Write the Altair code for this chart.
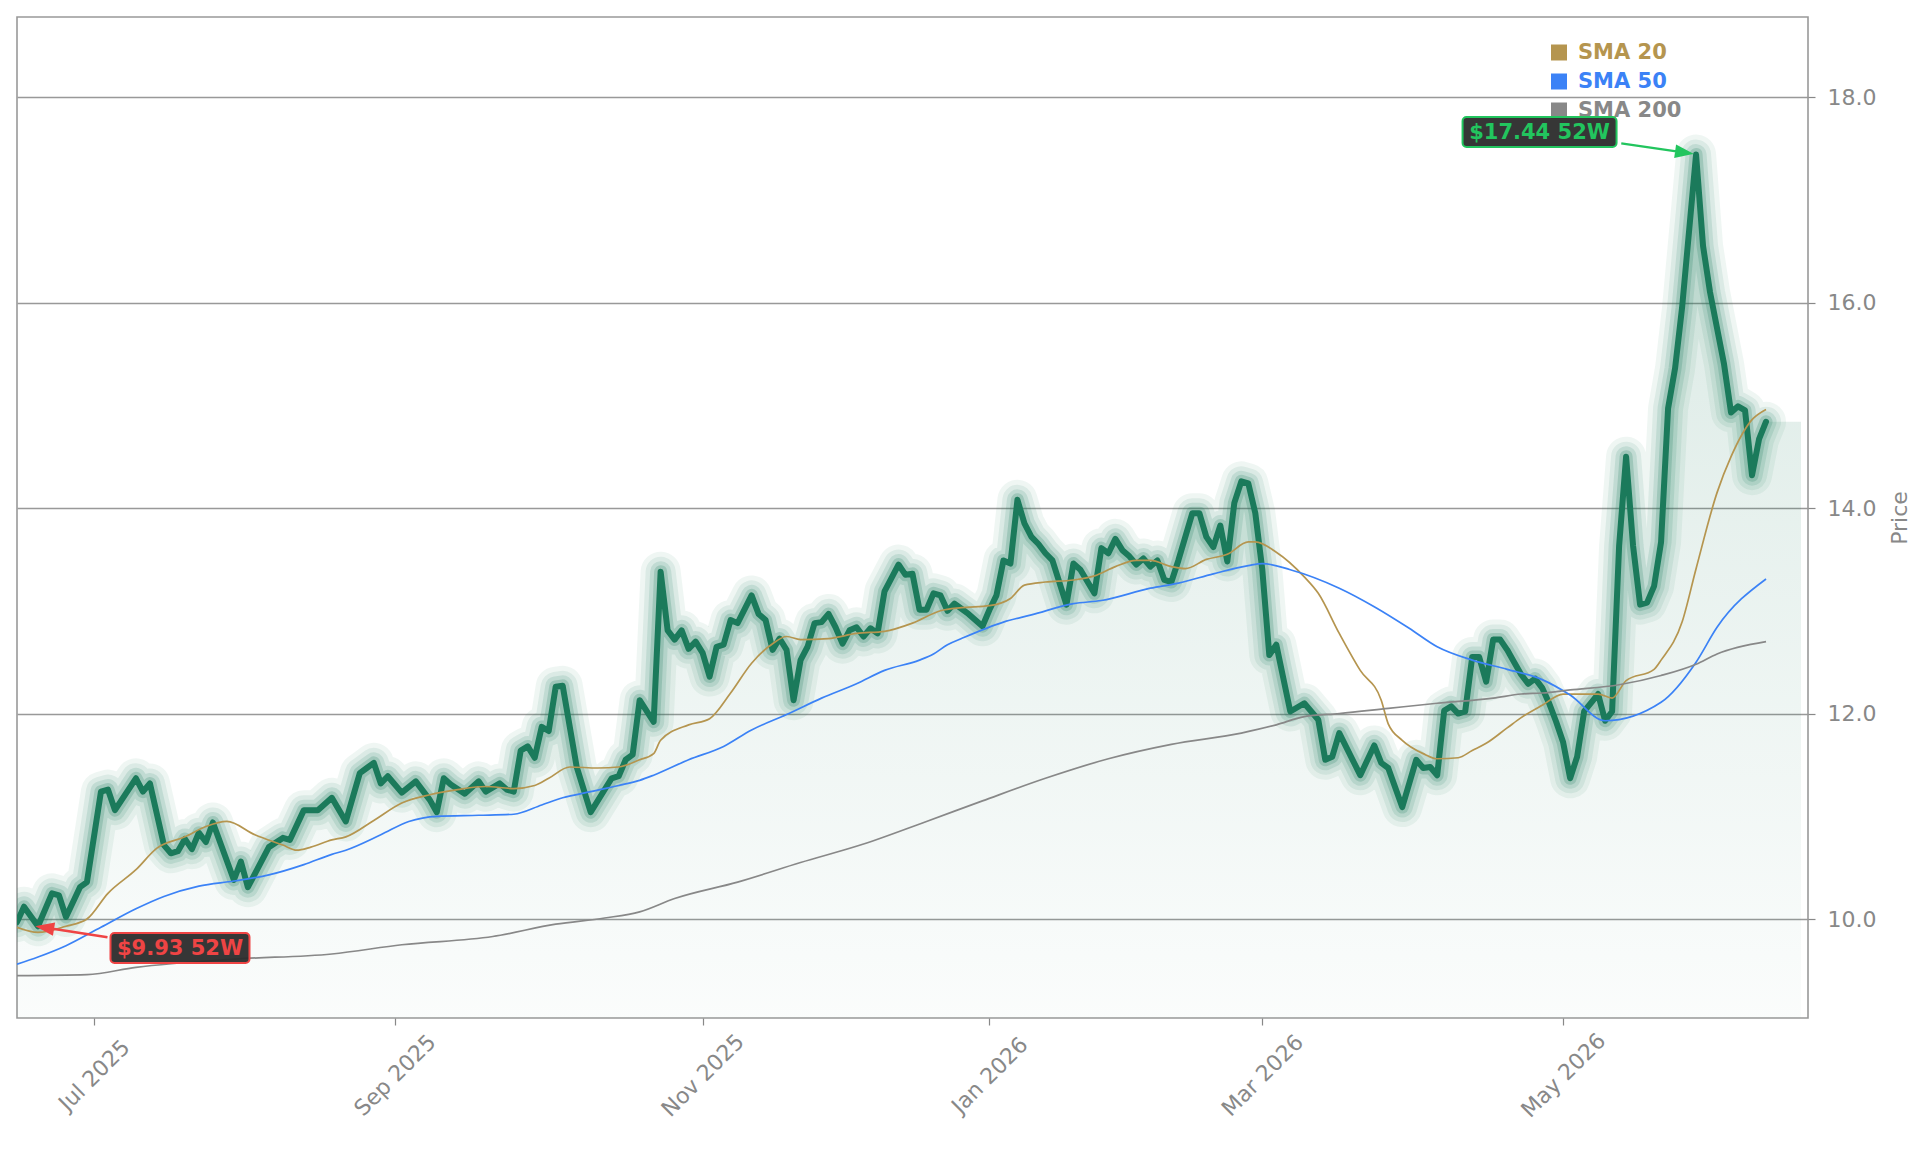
import altair as alt
import pandas as pd

# ---------------- data ----------------
# x positions are trading-day indices (0 = first day shown, 250 = last day)
price_idx = [0, 1, 3, 5, 6, 7, 9, 10, 12, 13, 14, 17, 18, 19, 21, 22, 23, 24, 25, 26,
             27, 28, 31, 32, 33, 36, 38, 39, 41, 43, 45, 47, 49, 50, 51, 52, 53, 55, 57, 59,
             60, 61, 62, 64, 66, 67, 69, 70, 71, 72, 73, 74, 75, 76, 77, 78, 80, 82, 85, 86,
             87, 88, 89, 91, 92, 93, 94, 95, 96, 97, 98, 99, 100, 101, 102, 103, 105, 106, 107, 108,
             109, 110, 111, 112, 113, 114, 115, 116, 117, 118, 119, 120, 121, 122, 123, 124, 126, 127, 128, 129,
             130, 131, 132, 133, 134, 135, 136, 138, 139, 140, 141, 142, 143, 144, 145, 146, 147, 148, 150, 151,
             152, 154, 155, 156, 157, 158, 159, 160, 161, 162, 163, 164, 165, 166, 168, 169, 170, 171, 172, 173,
             174, 175, 176, 177, 178, 179, 180, 182, 184, 186, 187, 188, 189, 192, 194, 195, 196, 198, 200, 201,
             202, 203, 204, 205, 206, 207, 208, 209, 210, 211, 212, 213, 214, 215, 216, 217, 218, 219, 220, 221,
             222, 223, 224, 226, 227, 228, 229, 230, 231, 232, 233, 234, 235, 236, 237, 238, 240, 241, 242, 244,
             245, 246, 247, 248, 249, 250]
price = [9.97, 10.12, 9.93, 10.25, 10.23, 10.02, 10.31, 10.36, 11.24, 11.26, 11.06, 11.37, 11.24, 11.32, 10.72, 10.64, 10.66, 10.78, 10.68, 10.84,
         10.75, 10.94, 10.38, 10.56, 10.31, 10.70, 10.79, 10.77, 11.06, 11.06, 11.18, 10.95, 11.42, 11.47, 11.52, 11.32, 11.39, 11.23, 11.34, 11.16,
         11.04, 11.37, 11.31, 11.22, 11.34, 11.24, 11.32, 11.26, 11.24, 11.64, 11.68, 11.57, 11.87, 11.83, 12.26, 12.27, 11.48, 11.04, 11.37, 11.39,
         11.55, 11.60, 12.13, 11.92, 13.38, 12.81, 12.72, 12.81, 12.63, 12.70, 12.59, 12.36, 12.65, 12.67, 12.91, 12.88, 13.15, 12.97, 12.91, 12.62,
         12.73, 12.62, 12.13, 12.52, 12.65, 12.88, 12.89, 12.97, 12.84, 12.68, 12.81, 12.84, 12.75, 12.83, 12.78, 13.19, 13.45, 13.35, 13.36, 13.01,
         13.01, 13.17, 13.15, 13.00, 13.07, 13.02, 12.97, 12.85, 13.01, 13.15, 13.49, 13.46, 14.08, 13.85, 13.72, 13.65, 13.56, 13.49, 13.06, 13.46,
         13.40, 13.17, 13.61, 13.56, 13.70, 13.59, 13.53, 13.45, 13.51, 13.43, 13.49, 13.30, 13.28, 13.49, 13.95, 13.95, 13.72, 13.62, 13.83, 13.48,
         14.05, 14.26, 14.24, 13.95, 13.40, 12.57, 12.67, 12.02, 12.10, 11.94, 11.55, 11.58, 11.81, 11.40, 11.69, 11.52, 11.47, 11.09, 11.55, 11.47,
         11.48, 11.40, 12.03, 12.07, 12.00, 12.02, 12.55, 12.55, 12.31, 12.72, 12.72, 12.62, 12.50, 12.38, 12.29, 12.34, 12.25, 12.10, 11.92, 11.72,
         11.37, 11.58, 12.02, 12.19, 11.93, 12.02, 13.63, 14.50, 13.63, 13.06, 13.08, 13.24, 13.67, 14.97, 15.36, 15.95, 17.44, 16.55, 16.10, 15.40,
         14.93, 14.99, 14.95, 14.32, 14.67, 14.84]

sma20_idx = [0, 3, 7, 10, 13, 17, 20, 24, 27, 30, 34, 38, 40, 42, 45, 47, 51, 55, 59, 63,
             67, 71, 74, 76, 79, 83, 86, 89, 91, 92, 96, 99, 102, 105, 108, 110, 112, 116, 120, 124,
             128, 132, 135, 139, 142, 144, 147, 151, 154, 157, 160, 162, 165, 167, 170, 173, 176, 177, 180, 184,
             186, 189, 192, 195, 196, 198, 201, 203, 206, 208, 210, 213, 215, 218, 221, 226, 228, 230, 234, 235,
             238, 240, 243, 245, 248, 250]
sma20 = [9.92, 9.87, 9.93, 10.00, 10.25, 10.48, 10.69, 10.80, 10.90, 10.95, 10.82, 10.72, 10.67, 10.70, 10.77, 10.80, 10.96, 11.13, 11.21, 11.26,
         11.29, 11.27, 11.30, 11.37, 11.48, 11.47, 11.48, 11.55, 11.61, 11.74, 11.89, 11.95, 12.20, 12.49, 12.68, 12.75, 12.72, 12.73, 12.78, 12.80,
         12.88, 13.00, 13.03, 13.05, 13.12, 13.25, 13.28, 13.30, 13.34, 13.43, 13.49, 13.49, 13.43, 13.41, 13.50, 13.55, 13.67, 13.67, 13.57, 13.33,
         13.17, 12.78, 12.42, 12.13, 11.90, 11.74, 11.61, 11.56, 11.57, 11.64, 11.71, 11.86, 11.96, 12.08, 12.19, 12.19, 12.15, 12.32, 12.43, 12.52,
         12.89, 13.41, 14.15, 14.50, 14.86, 14.96]

sma50_idx = [0, 3, 7, 12, 17, 21, 26, 31, 36, 41, 45, 47, 52, 56, 60, 66, 71, 75, 78, 82,
             86, 89, 91, 96, 101, 105, 110, 115, 120, 124, 129, 131, 133, 135, 141, 145, 151, 155, 162, 166,
             171, 176, 178, 182, 189, 194, 199, 203, 208, 213, 218, 222, 227, 235, 240, 243, 250]
sma50 = [9.56, 9.63, 9.74, 9.92, 10.10, 10.22, 10.32, 10.37, 10.43, 10.53, 10.63, 10.67, 10.82, 10.95, 11.00, 11.01, 11.02, 11.11, 11.18, 11.24,
         11.30, 11.35, 11.40, 11.55, 11.68, 11.84, 11.99, 12.15, 12.29, 12.42, 12.52, 12.58, 12.67, 12.73, 12.89, 12.96, 13.07, 13.10, 13.22, 13.27,
         13.36, 13.44, 13.46, 13.40, 13.22, 13.04, 12.83, 12.65, 12.52, 12.43, 12.33, 12.18, 11.93, 12.11, 12.50, 12.84, 13.31]

sma200_idx = [0, 10, 17, 31, 45, 55, 68, 77, 84, 89, 94, 103, 112, 121, 130, 138, 147, 156, 165, 175,
              180, 184, 189, 196, 203, 211, 215, 218, 222, 229, 235, 240, 243, 250]
sma200 = [9.45, 9.46, 9.53, 9.61, 9.66, 9.75, 9.83, 9.95, 10.01, 10.07, 10.20, 10.36, 10.55, 10.73, 10.95, 11.15, 11.37, 11.56, 11.70, 11.81,
          11.89, 11.97, 12.00, 12.05, 12.10, 12.15, 12.19, 12.20, 12.23, 12.28, 12.37, 12.48, 12.58, 12.70]

tick_idx = [11, 54, 98, 139, 178, 221]
tick_labels = ["Jul 2025", "Sep 2025", "Nov 2025", "Jan 2026", "Mar 2026", "May 2026"]
y_ticks = [10, 12, 14, 16, 18]

series_names = ["SMA 20", "SMA 50", "SMA 200"]
series_colors = ["#b5954f", "#3b82f6", "#888888"]

# ---------------- styling ----------------
X_DOMAIN = [0, 256]
Y_DOMAIN = [9.037, 18.779]
AREA_END = 255
GREEN = "#1b7a5b"
HI_COLOR = "#22c55e"
LO_COLOR = "#ef4444"
BOX_FILL = "#2b2b2b"
GRAY = "#888888"
FONT = "DejaVu Sans"
LEG_X, LEG_Y0, LEG_DY = 1542, 35.5, 29

price_df = pd.DataFrame({"idx": price_idx, "price": price})
area_df = pd.concat([price_df, pd.DataFrame({"idx": [AREA_END], "price": [price[-1]]})],
                    ignore_index=True)
sma_df = pd.concat([
    pd.DataFrame({"idx": sma20_idx, "value": sma20, "series": "SMA 20"}),
    pd.DataFrame({"idx": sma50_idx, "value": sma50, "series": "SMA 50"}),
    pd.DataFrame({"idx": sma200_idx, "value": sma200, "series": "SMA 200"}),
], ignore_index=True)

hi_row = price_df.loc[[price_df["price"].idxmax()]].copy()
hi_row["label"] = hi_row["price"].map(lambda v: f"${v:.2f} 52W")
lo_row = price_df.loc[[price_df["price"].idxmin()]].copy()
lo_row["label"] = lo_row["price"].map(lambda v: f"${v:.2f} 52W")

label_expr = " : ".join(f"datum.value == {i} ? '{l}'" for i, l in zip(tick_idx, tick_labels)) + " : ''"

xscale = alt.Scale(domain=X_DOMAIN, nice=False, zero=False)
yscale = alt.Scale(domain=Y_DOMAIN, nice=False, zero=False)

x_axis = alt.Axis(values=tick_idx, labelExpr=label_expr, labelAngle=315, labelAlign="center",
                  labelBaseline="middle", labelPadding=50, tickSize=7, tickColor=GRAY, tickWidth=1.2,
                  labelFontSize=22, labelColor=GRAY, labelFont=FONT, grid=False, domain=False,
                  title=None, labelOverlap=False, labelFlush=False)
y_axis = alt.Axis(orient="right", values=y_ticks, format=".1f", grid=True, gridColor="#999999",
                  gridWidth=1.5, domain=False, tickSize=7, tickColor=GRAY, tickWidth=1.2,
                  labelFontSize=22, labelColor=GRAY, labelFont=FONT, labelPadding=12,
                  title="Price", titleFontSize=22, titleColor=GRAY, titleFont=FONT,
                  titleFontWeight="normal", titleAngle=270, titleBaseline="top", titlePadding=14)

X = alt.X("idx:Q", scale=xscale, axis=x_axis)
Y = alt.Y("price:Q", scale=yscale, axis=y_axis)

area = alt.Chart(area_df).mark_area(
    clip=True,
    color=alt.Gradient(
        gradient="linear",
        stops=[alt.GradientStop(color="rgba(27,122,91,0.17)", offset=0),
               alt.GradientStop(color="rgba(27,122,91,0.02)", offset=1)],
        x1=1, x2=1, y1=0, y2=1),
).encode(x=X, y=Y, y2=alt.datum(Y_DOMAIN[0]))

glow_layers = []
for w, op in [(40, 0.07), (30, 0.09), (21, 0.13), (13, 0.2)]:
    glow_layers.append(
        alt.Chart(price_df).mark_line(strokeWidth=w, opacity=op, color=GREEN, strokeJoin="round",
                                      strokeCap="round", clip=True).encode(x=X, y=Y))

core = alt.Chart(price_df).mark_line(strokeWidth=6, color=GREEN, strokeJoin="round",
                                     strokeCap="round", clip=True).encode(x=X, y=Y)

sma_lines = alt.Chart(sma_df).mark_line(strokeWidth=1.7, clip=True, interpolate="monotone").encode(
    x=X, y=alt.Y("value:Q", scale=yscale, axis=y_axis),
    color=alt.Color("series:N", scale=alt.Scale(domain=series_names, range=series_colors), legend=None),
)

# legend drawn as marks (coloured squares + coloured bold labels)
legend_layers = []
for i, (name, col) in enumerate(zip(series_names, series_colors)):
    ldf = pd.DataFrame({"series": [name]})
    ypos = LEG_Y0 + i * LEG_DY
    legend_layers.append(
        alt.Chart(ldf).mark_square(size=256, color=col, opacity=1).encode(
            x=alt.value(LEG_X), y=alt.value(ypos)))
    legend_layers.append(
        alt.Chart(ldf).mark_text(align="left", baseline="middle", fontSize=21, fontWeight="bold",
                                 font=FONT, color=col).encode(
            x=alt.value(LEG_X + 19), y=alt.value(ypos), text="series:N"))


def annotation(df, color, box, text_off, arrow_path):
    x0, x1, y0, y1 = box
    arrow = alt.Chart(df).mark_point(shape=arrow_path, size=4, filled=True, fill=color, stroke=color,
                                     strokeWidth=2.5, opacity=1).encode(x=X, y=Y)
    rect = alt.Chart(df).mark_rect(xOffset=x0, x2Offset=x1, yOffset=y0, y2Offset=y1, cornerRadius=4,
                                   fill=BOX_FILL, fillOpacity=0.95, stroke=color, strokeWidth=2).encode(
        x=X, x2="idx:Q", y=Y, y2="price:Q")
    text = alt.Chart(df).mark_text(dx=text_off[0], dy=text_off[1], align="center", baseline="middle",
                                   fontSize=21, fontWeight="bold", font=FONT, color=color).encode(
        x=X, y=Y, text="label:N")
    return [arrow, rect, text]


hi_ann = annotation(hi_row, HI_COLOR, (-233.5, -79.5, -37.5, -7.5), (-156.5, -21.5),
                    "M -74.8 -11.2 L -19.7 -3.2 M -5.8 -1.2 L -20.4 1.75 L -19 -8.15 Z")
lo_ann = annotation(lo_row, LO_COLOR, (72.5, 211.5, 6.8, 36.8), (142, 22.5),
                    "M 69.5 11 L 14.8 2.6 M 1 0.5 L 15.6 -2.3 L 14 7.5 Z")

chart = alt.layer(area, *glow_layers, core, sma_lines, *legend_layers, *hi_ann, *lo_ann).properties(
    width=1791, height=1001,
    padding={"left": 17, "top": 17, "right": 5, "bottom": 5},
    background="white",
).configure(font=FONT).configure_view(stroke="#999999", strokeWidth=1.6)

chart.save("out.html", embed_options={"renderer": "svg", "actions": False})
